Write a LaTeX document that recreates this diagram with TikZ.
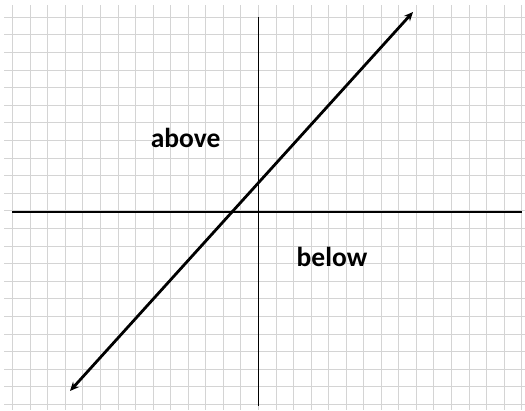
\documentclass[tikz,border=0pt]{standalone}
\usepackage{fontspec}
\setmainfont{Carlito}
\usetikzlibrary{arrows.meta}
\begin{document}
\begin{tikzpicture}[x=1pt,y=-1pt,
  gridline/.style={draw=black!17,line width=0.9pt},
  axisline/.style={draw=black,line width=1.5pt},
  mainline/.style={draw=black,line width=2.8pt,{Stealth[length=9pt,width=8pt]}-{Stealth[length=9pt,width=8pt]}},
  regionlabel/.style={font=\bfseries\fontsize{27.5}{32}\selectfont,anchor=base,inner sep=0pt}]
\useasboundingbox (0,0) rectangle (525,410);
\fill[white] (0,0) rectangle (525,410);
\foreach \k in {0,...,29} {
  \draw[gridline] ({12.7+17.55*\k},5) -- ({12.7+17.55*\k},410);
}
\foreach \k in {0,...,22} {
  \draw[gridline] (4,{17.3+17.6*\k}) -- (525,{17.3+17.6*\k});
}
\coordinate (xl) at (12,212);
\coordinate (xr) at (522,212);
\coordinate (yt) at (258.3,17);
\coordinate (yb) at (258.3,406);
\draw[axisline] (xl) -- (xr);
\draw[axisline] (yt) -- (yb);
\coordinate (lo) at (70,391);
\coordinate (hi) at (413,12);
\draw[mainline] (lo) -- (hi);
\node[regionlabel] (above) at (185.7,147.3) {above};
\node[regionlabel] (below) at (332,266.7) {below};
\end{tikzpicture}
\end{document}
